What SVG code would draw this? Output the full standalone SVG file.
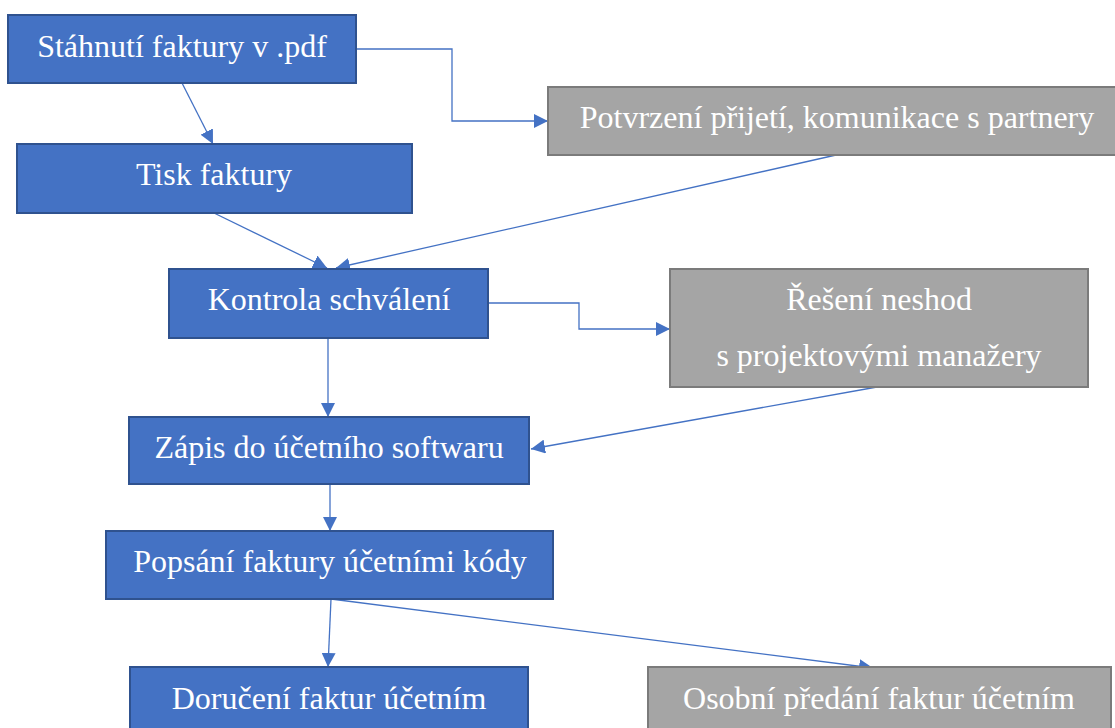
<svg xmlns="http://www.w3.org/2000/svg" width="1115" height="728" viewBox="0 0 1115 728">
<defs>
<style>
.blue{fill:#4472C4;stroke:#2F528F;stroke-width:2}
.gray{fill:#A5A5A5;stroke:#7B7B7B;stroke-width:2}
.t{font-family:"Liberation Serif","Times New Roman",serif;font-size:32px;fill:#FFFFFF;text-anchor:middle}
.c{fill:none;stroke:#4472C4;stroke-width:1.3}
</style>
<marker id="arr" viewBox="0 0 12 12" refX="12" refY="6" markerWidth="14" markerHeight="14" markerUnits="userSpaceOnUse" orient="auto">
<path d="M0,0 L12,6 L0,12 z" fill="#4472C4"/>
</marker>
</defs>
<rect width="1115" height="728" fill="#FFFFFF"/>
<g id="connectors">
<path class="c" d="M182,83 L213,144" marker-end="url(#arr)"/>
<path class="c" d="M356,49 L452,49 L452,121 L548,121" marker-end="url(#arr)"/>
<path class="c" d="M214,213 L327,268" marker-end="url(#arr)"/>
<path class="c" d="M836,155 L336,268" marker-end="url(#arr)"/>
<path class="c" d="M488,303 L579,303 L579,329 L670,329" marker-end="url(#arr)"/>
<path class="c" d="M328,338 L328,417" marker-end="url(#arr)"/>
<path class="c" d="M877,387 L531,449" marker-end="url(#arr)"/>
<path class="c" d="M330,484 L330,531" marker-end="url(#arr)"/>
<path class="c" d="M331,599 L328,667" marker-end="url(#arr)"/>
<path class="c" d="M331,599 L873,668" marker-end="url(#arr)"/>
</g>
<g id="n1"><rect class="blue" x="8" y="15" width="348" height="68"/><text class="t" x="182" y="57">Stáhnutí faktury v .pdf</text></g>
<g id="n2"><rect class="blue" x="17" y="144" width="395" height="69"/><text class="t" x="214" y="185">Tisk faktury</text></g>
<g id="n3"><rect class="gray" x="548" y="87" width="580" height="68"/><text class="t" x="837" y="128">Potvrzení přijetí, komunikace s partnery</text></g>
<g id="n4"><rect class="blue" x="169" y="269" width="319" height="69"/><text class="t" x="329" y="310">Kontrola schválení</text></g>
<g id="n5"><rect class="gray" x="670" y="269" width="418" height="118"/><text class="t" x="879" y="310">Řešení neshod</text><text class="t" x="879" y="366">s projektovými manažery</text></g>
<g id="n6"><rect class="blue" x="129" y="417" width="400" height="67"/><text class="t" x="329" y="458">Zápis do účetního softwaru</text></g>
<g id="n7"><rect class="blue" x="106" y="531" width="447" height="68"/><text class="t" x="330" y="572">Popsání faktury účetními kódy</text></g>
<g id="n8"><rect class="blue" x="130" y="667" width="398" height="80"/><text class="t" x="329" y="709">Doručení faktur účetním</text></g>
<g id="n9"><rect class="gray" x="648" y="667" width="463" height="80"/><text class="t" x="879" y="709">Osobní předání faktur účetním</text></g>
</svg>
